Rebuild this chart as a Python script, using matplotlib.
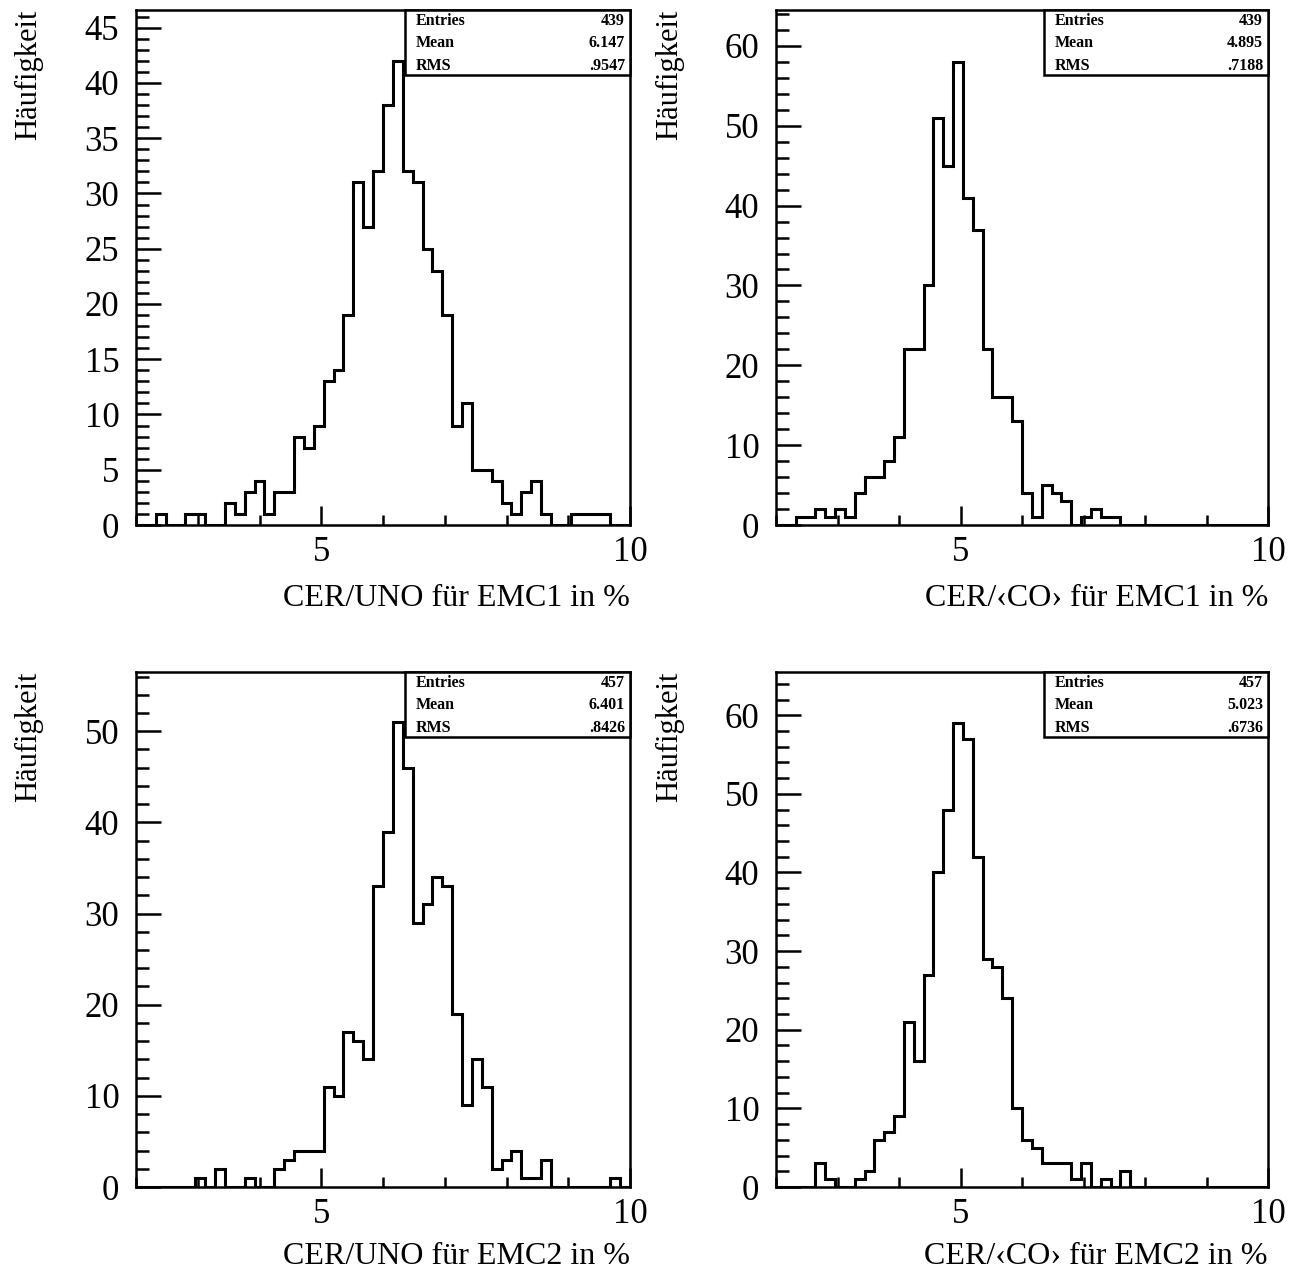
import numpy as np
import matplotlib.pyplot as plt
from matplotlib.ticker import MultipleLocator
from matplotlib.patches import Rectangle

plt.rcParams['font.family'] = ['Liberation Serif', 'DejaVu Serif']

# 50 bins between 2 and 10
x_min, x_max, n_bins = 2.0, 10.0, 50

emc1_uno = [0, 0, 1, 0, 0, 1, 1, 0, 0, 2,
            1, 3, 4, 1, 3, 3, 8, 7, 9, 13,
            14, 19, 31, 27, 32, 38, 42, 32, 31, 25,
            23, 19, 9, 11, 5, 5, 4, 2, 1, 3,
            4, 1, 0, 0, 1, 1, 1, 1, 0, 0]
emc1_co = [0, 0, 1, 1, 2, 1, 2, 1, 4, 6,
           6, 8, 11, 22, 22, 30, 51, 45, 58, 41,
           37, 22, 16, 16, 13, 4, 1, 5, 4, 3,
           0, 1, 2, 1, 1, 0, 0, 0, 0, 0,
           0, 0, 0, 0, 0, 0, 0, 0, 0, 0]
emc2_uno = [0, 0, 0, 0, 0, 0, 1, 0, 2, 0,
            0, 1, 0, 0, 2, 3, 4, 4, 4, 11,
            10, 17, 16, 14, 33, 39, 51, 46, 29, 31,
            34, 33, 19, 9, 14, 11, 2, 3, 4, 1,
            1, 3, 0, 0, 0, 0, 0, 0, 1, 0]
emc2_co = [0, 0, 0, 0, 3, 1, 0, 0, 1, 2,
           6, 7, 9, 21, 16, 27, 40, 48, 59, 57,
           42, 29, 28, 24, 10, 6, 5, 3, 3, 3,
           1, 3, 0, 1, 0, 2, 0, 0, 0, 0,
           0, 0, 0, 0, 0, 0, 0, 0, 0, 0]

# statistics boxes: entries, mean, rms
stats = [("439", "6.147", ".9547"),
         ("439", "4.895", ".7188"),
         ("457", "6.401", ".8426"),
         ("457", "5.023", ".6736")]

xlabels = ["CER/UNO für EMC1 in %", "CER/‹CO› für EMC1 in %",
           "CER/UNO für EMC2 in %", "CER/‹CO› für EMC2 in %"]
ymax = [46.6, 64.5, 56.5, 65.5]
ymajor = [5, 10, 10, 10]
yminor = [1, 2, 2, 2]

fig = plt.figure(figsize=(12.93, 12.74), dpi=100)
W, H = 1293, 1274
# axes frames in pixels: left, top, right, bottom
frames = [(136, 10, 630, 525), (776, 10, 1268, 525),
          (136, 672, 630, 1187), (776, 672, 1268, 1187)]
xlab_y = [-0.142, -0.142, -0.134, -0.134]

edges = np.linspace(x_min, x_max, n_bins + 1)
data = [emc1_uno, emc1_co, emc2_uno, emc2_co]

for i in range(4):
    l, t, r, b = frames[i]
    ax = fig.add_axes([l / W, 1 - b / H, (r - l) / W, (b - t) / H])
    ax.stairs(data[i], edges, color='black', lw=2.2, baseline=0)
    ax.set_xlim(x_min, x_max)
    ax.set_ylim(0, ymax[i])

    ax.xaxis.set_major_locator(MultipleLocator(5))
    ax.xaxis.set_minor_locator(MultipleLocator(1))
    ax.yaxis.set_major_locator(MultipleLocator(ymajor[i]))
    ax.yaxis.set_minor_locator(MultipleLocator(yminor[i]))
    ax.tick_params(which='both', direction='in', top=False, right=False,
                   width=1.8, labelsize=25)
    ax.tick_params(axis='x', which='major', length=14, pad=8)
    ax.tick_params(axis='x', which='minor', length=7)
    ax.tick_params(axis='y', which='major', length=18, pad=12)
    ax.tick_params(axis='y', which='minor', length=9.5)
    for s in ax.spines.values():
        s.set_linewidth(1.8)

    ax.text(1.0, xlab_y[i], xlabels[i], transform=ax.transAxes,
            ha='right', va='center', fontsize=23)
    ax.text(-0.217, 1.0, "Häufigkeit", transform=ax.transAxes, rotation=90,
            ha='center', va='top', fontsize=22)

    # stats box
    bx = 0.544
    by = 0.874
    ax.add_patch(Rectangle((bx, by), 1 - bx, 1 - by, transform=ax.transAxes,
                           facecolor='white', edgecolor='black', lw=1.8,
                           zorder=5, clip_on=False))
    rows = ["Entries", "Mean", "RMS"]
    for j in range(3):
        yy = 0.979 - j * 0.0435
        ax.text(bx + 0.023, yy, rows[j], transform=ax.transAxes, ha='left',
                va='center', fontsize=11.5, fontweight='bold', zorder=6)
        ax.text(0.99, yy, stats[i][j], transform=ax.transAxes, ha='right',
                va='center', fontsize=11.5, fontweight='bold', zorder=6)

fig.savefig("out.png", dpi=100)
